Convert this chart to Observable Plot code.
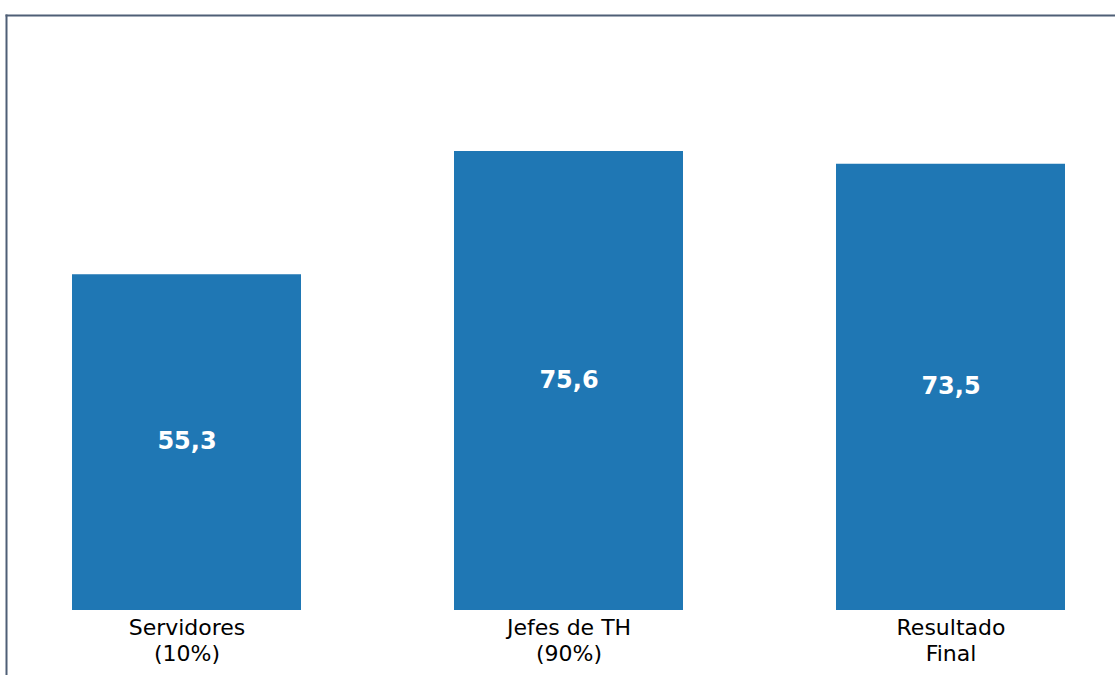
<!DOCTYPE html>
<html><head><meta charset="utf-8">
<script src="https://cdn.jsdelivr.net/npm/d3@7"></script>
<script src="https://cdn.jsdelivr.net/npm/@observablehq/plot@0.6"></script>
<style>body{margin:0;background:#fff;}</style>
</head><body><div id="chart"></div>
<script>
const categories = ["Servidores\n(10%)", "Jefes de TH\n(90%)", "Resultado\nFinal"];
const values = [55.3, 75.6, 73.5];
const valueLabels = ["55,3", "75,6", "73,5"];
const yMax = 98;
const data = categories.map((c, i) => ({cat: c, value: values[i], label: valueLabels[i]}));
const borderColor = "#4f5f76";
const chart = Plot.plot({
  width: 1115, height: 675,
  marginTop: 15, marginLeft: 6, marginRight: 0, marginBottom: 0,
  style: {fontFamily: "DejaVu Sans", background: "white"},
  x: {domain: categories, range: [-4.5, 1141.5], paddingInner: 0.4, paddingOuter: 0.2, axis: null},
  y: {domain: [0, yMax], range: [610, 15], axis: null},
  marks: [
    Plot.barY(data, {x: "cat", y: "value", fill: "#1f77b4"}),
    Plot.text(data, {x: "cat", y: d => d.value / 2, text: "label", fill: "white", fontSize: 24, fontWeight: "bold", dy: -1}),
    Plot.text(data, {x: "cat", y: 0, text: "cat", lineAnchor: "top", dy: 7, fontSize: 22, fill: "black", lineHeight: 1.15}),
    Plot.frame({anchor: "top", stroke: borderColor, strokeWidth: 2}),
    Plot.frame({anchor: "left", stroke: borderColor, strokeWidth: 2})
  ]
});
document.getElementById("chart").appendChild(chart);
</script>
</body></html>
